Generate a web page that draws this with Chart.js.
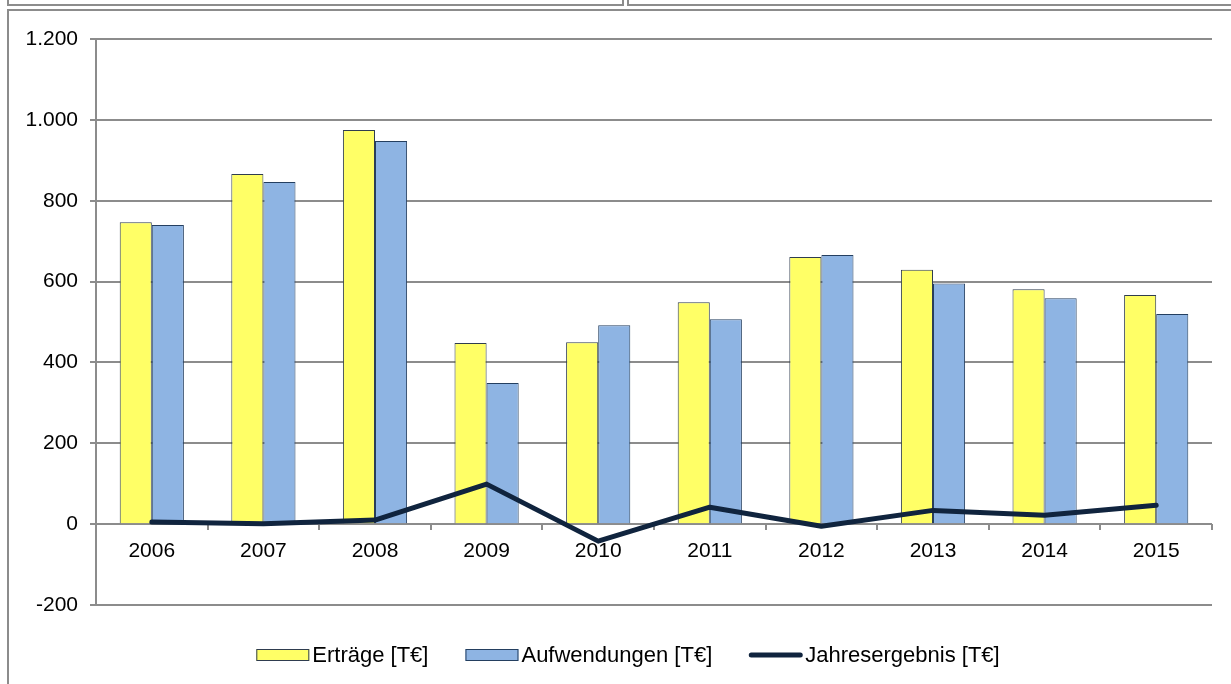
<!DOCTYPE html>
<html>
<head>
<meta charset="utf-8">
<script src="https://cdn.jsdelivr.net/npm/chart.js@4"></script>
<style>
    html, body { margin: 0; padding: 0; background: #fff; }
    body { width: 1231px; height: 684px; position: relative; overflow: hidden; }
    .frame { position: absolute; border: 2px solid #8c8c8c; box-sizing: border-box; }
    #chart { position: absolute; left: 0; top: 0; }
</style>
</head>
<body>
<div class="frame" style="left:7px; top:-10px; width:617px; height:16px;"></div>
<div class="frame" style="left:627px; top:-10px; width:620px; height:16px;"></div>
<div class="frame" style="left:7px; top:9px; width:1240px; height:700px;"></div>
<canvas id="chart" width="1231" height="684"></canvas>
<script>
const years = ['2006', '2007', '2008', '2009', '2010', '2011', '2012', '2013', '2014', '2015'];
const ertraege = [747, 866, 975, 448, 450, 549, 661, 629, 581, 567];
const aufwendungen = [740, 846, 948, 349, 492, 507, 666, 595, 559, 520];
const jahresergebnis = [5, 1, 10, 99, -42, 42, -5, 34, 22, 47];
const seriesNames = ['Erträge [T€]', 'Aufwendungen [T€]', 'Jahresergebnis [T€]'];

const FONT = '"Liberation Sans", Arial, sans-serif';

function formatDe(v) {
    const s = String(Math.abs(v)).replace(/\B(?=(\d{3})+(?!\d))/g, '.');
    return v < 0 ? '-' + s : s;
}

// legend drawn by hand so the boxes look like the spreadsheet one
const bottomLegend = {
    id: 'bottomLegend',
    afterDraw(chart) {
        const ctx = chart.ctx;
        const boxW = 53, boxH = 12, gap = 3, spacing = 37;
        const y = 655;
        ctx.save();
        ctx.font = '22px ' + FONT;
        ctx.textBaseline = 'middle';
        const widths = chart.data.datasets.map(ds => ctx.measureText(ds.label).width);
        const total = widths.reduce((a, w) => a + boxW + gap + w, 0) + spacing * (widths.length - 1);
        let x = 628 - total / 2;
        chart.data.datasets.forEach((ds, i) => {
            if (ds.type === 'line') {
                ctx.strokeStyle = ds.borderColor;
                ctx.lineWidth = 5;
                ctx.lineCap = 'round';
                ctx.beginPath();
                ctx.moveTo(x + 2, y);
                ctx.lineTo(x + boxW - 2, y);
                ctx.stroke();
            } else {
                ctx.fillStyle = ds.backgroundColor;
                ctx.fillRect(x, y - boxH / 2, boxW, boxH);
                ctx.strokeStyle = ds.borderColor;
                ctx.lineWidth = 1;
                ctx.strokeRect(x + 0.5, y - boxH / 2 + 0.5, boxW - 1, boxH - 1);
            }
            ctx.fillStyle = '#000';
            ctx.fillText(ds.label, x + boxW + gap, y + 1);
            x += boxW + gap + widths[i] + spacing;
        });
        ctx.restore();
    }
};

new Chart(document.getElementById('chart'), {
    type: 'bar',
    data: {
        labels: years,
        datasets: [
            {
                label: seriesNames[0],
                data: ertraege,
                backgroundColor: '#ffff66',
                borderColor: '#2f3d4f',
                borderWidth: 1,
                barPercentage: 1,
                categoryPercentage: 0.575,
                order: 1
            },
            {
                label: seriesNames[1],
                data: aufwendungen,
                backgroundColor: '#8eb4e3',
                borderColor: '#243f60',
                borderWidth: 1,
                barPercentage: 1,
                categoryPercentage: 0.575,
                order: 1
            },
            {
                type: 'line',
                label: seriesNames[2],
                data: jahresergebnis,
                borderColor: '#10243e',
                borderWidth: 5,
                pointRadius: 0,
                tension: 0,
                borderCapStyle: 'round',
                borderJoinStyle: 'round',
                order: 0
            }
        ]
    },
    options: {
        responsive: false,
        animation: false,
        layout: { padding: { top: 39, right: 19, bottom: 79, left: 0 } },
        plugins: {
            legend: { display: false },
            tooltip: { enabled: false }
        },
        scales: {
            x: {
                position: { y: 0 },
                grid: {
                    drawOnChartArea: false,
                    drawTicks: true,
                    tickLength: 6,
                    color: '#8c8c8c',
                    lineWidth: 2
                },
                border: { display: false },
                ticks: {
                    color: '#000',
                    padding: 8,
                    font: { family: FONT, size: 21 }
                }
            },
            y: {
                min: -200,
                max: 1200,
                ticks: {
                    stepSize: 200,
                    color: '#000',
                    padding: 12,
                    font: { family: FONT, size: 21 },
                    callback: v => formatDe(v)
                },
                grid: {
                    color: '#8c8c8c',
                    lineWidth: 2,
                    tickLength: 6
                },
                border: { color: '#8c8c8c', width: 2 },
                afterFit(scale) { scale.width = 96; }
            }
        }
    },
    plugins: [bottomLegend]
});
</script>
</body>
</html>
